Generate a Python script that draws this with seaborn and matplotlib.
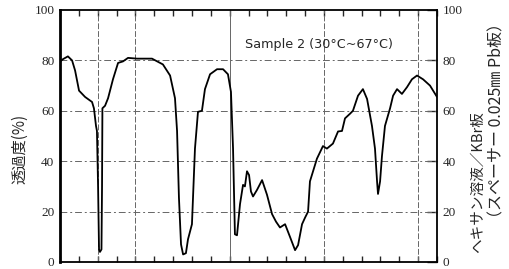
import matplotlib
matplotlib.use("Agg")
import matplotlib.pyplot as plt
import seaborn as sns
import pandas as pd

# chart-paper divisions (no wavenumber labels on the scan)
x_div = [0.00, 0.16, 0.42, 0.64, 0.80, 1.01, 1.33, 1.70, 1.80, 1.91, 1.96, 2.02, 2.07, 2.12,
         2.20, 2.23, 2.25, 2.39, 2.55, 2.81, 3.08, 3.34, 3.61, 4.08, 4.88, 5.46, 5.84, 6.10,
         6.21, 6.31, 6.42, 6.53, 6.68, 6.79, 7.00, 7.16, 7.32, 7.53, 7.69, 7.96, 8.33, 8.65,
         8.91, 9.07, 9.18, 9.28, 9.39, 9.55, 9.71, 9.81, 9.92, 10.03, 10.13, 10.24, 10.45,
         10.72, 10.98, 11.25, 11.46, 11.67, 11.94, 12.20, 12.47, 12.63, 12.84, 13.00, 13.16,
         13.26, 13.63, 13.95, 14.16, 14.48, 14.75, 14.96, 15.12, 15.38, 15.54, 15.81, 16.07,
         16.29, 16.55, 16.71, 16.82, 16.87, 16.98, 17.08, 17.24, 17.51, 17.67, 17.88, 18.14,
         18.41, 18.67, 18.94, 19.26, 19.63, 20.00]
transmittance = [79.5, 80.5, 81.6, 80.0, 76.0, 68.0, 65.5, 63.5, 61.0, 54.0, 52.0, 30.0, 5.0, 4.0,
                 5.0, 30.0, 61.0, 62.0, 65.0, 72.5, 79.0, 79.6, 81.0, 80.7, 80.7, 78.4, 74.0, 65.0,
                 52.0, 25.5, 7.0, 3.0, 3.5, 9.0, 15.0, 45.0, 59.6, 60.0, 68.6, 74.5, 76.5, 76.5,
                 74.5, 67.5, 45.0, 11.0, 10.6, 23.0, 30.6, 30.0, 36.0, 34.5, 28.0, 26.0, 28.6,
                 32.5, 26.7, 19.0, 16.0, 13.7, 15.0, 10.0, 4.7, 6.7, 15.0, 17.6, 20.0,
                 32.0, 41.0, 46.0, 45.0, 47.0, 51.8, 52.0, 57.0, 58.8, 60.0, 66.0, 68.6,
                 64.7, 54.0, 45.0, 32.0, 27.0, 32.0, 42.0, 54.0, 61.0, 66.0, 68.6, 66.7,
                 69.4, 72.5, 74.0, 72.5, 70.0, 65.5]

y_ticks = [0, 20, 40, 60, 80, 100]
paper_lines_x = [2, 4, 9, 14, 19]
paper_lines_y = [20, 40, 60, 80]

title_text = "Sample 2 (30°C~67°C)"
left_label = "透過度(%)"
right_label_1 = "ヘキサン溶液／KBr板"
right_label_2 = "（スペーサー 0.025㎜ Pb板）"

df = pd.DataFrame({"x": x_div, "T": transmittance})

sns.set_style("white")
plt.rcParams["font.family"] = ["Noto Sans CJK JP", "DejaVu Sans"]

fig = plt.figure(figsize=(5.10, 2.69), dpi=100)
ax = fig.add_axes([60 / 510, 7 / 269, 377 / 510, 252 / 269])

for xv in paper_lines_x:
    ax.axvline(xv, color="#666666", lw=0.7, ls="-" if xv == 9 else (0, (6, 2)), zorder=1)
for yv in paper_lines_y:
    ax.axhline(yv, color="#666666", lw=0.7, ls=(0, (7, 3, 2, 3)), zorder=1)

sns.lineplot(data=df, x="x", y="T", color="black", lw=1.3, ax=ax, zorder=3)

ax.set_xlim(0, 20)
ax.set_ylim(0, 100)
ax.set_xlabel("")
ax.set_ylabel("")

ax.set_xticks(range(0, 21))
ax.set_xticklabels([])
ax.tick_params(axis="x", direction="in", length=4, width=1, top=True, bottom=True)
ax.set_yticks(y_ticks)
ax.set_yticklabels([str(v) for v in y_ticks], family="Liberation Serif", fontsize=9.5)
ax.tick_params(axis="y", direction="in", length=7, width=1, left=False, right=True,
               labelleft=True, labelright=True, pad=4)

for side in ["left", "right", "top", "bottom"]:
    ax.spines[side].set_color("black")
    ax.spines[side].set_linewidth(1.3)
ax.spines["left"].set_linewidth(2)

ax.text(0.49, 0.863, title_text, transform=ax.transAxes, fontsize=9.2,
        family="DejaVu Sans", va="center", ha="left")

fig.text(20 / 510, 1 - 149 / 269, left_label, rotation=90, fontsize=11,
         ha="center", va="center")
fig.text(478 / 510, 1 - 182 / 269, right_label_1, rotation=90, fontsize=10.5,
         ha="center", va="center")
fig.text(497 / 510, 1 - 121 / 269, right_label_2, rotation=90, fontsize=11.5,
         ha="center", va="center")

fig.savefig("out.png", dpi=100)
